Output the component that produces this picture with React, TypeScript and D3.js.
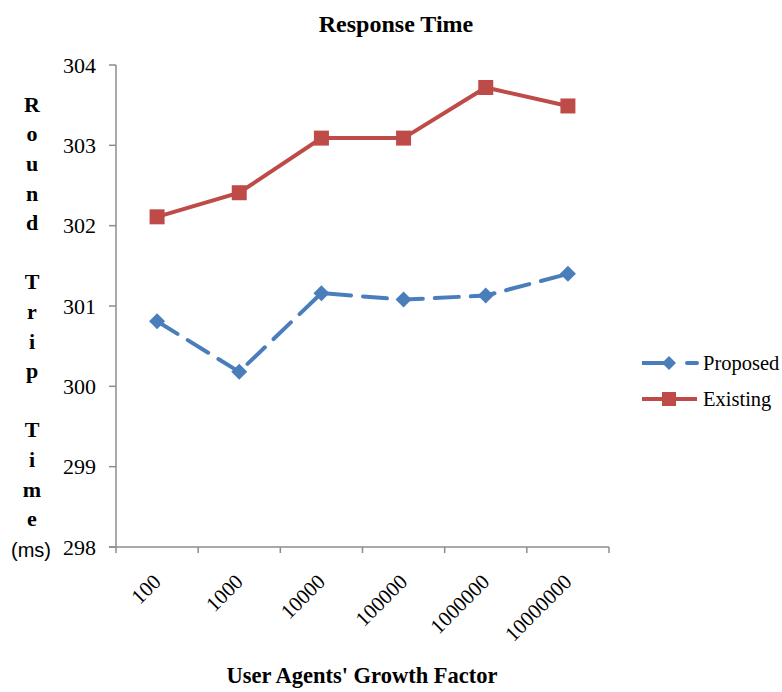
import * as d3 from "d3";

const categories = ["100", "1000", "10000", "100000", "1000000", "10000000"];
const proposed = [300.81, 300.18, 301.16, 301.08, 301.13, 301.4];
const existing = [302.11, 302.41, 303.09, 303.09, 303.72, 303.49];
const yTicks = [298, 299, 300, 301, 302, 303, 304];
const yTitleLetters = ["R", "o", "u", "n", "d", "", "T", "r", "i", "p", "", "T", "i", "m", "e"];

const W = 782;
const H = 692;
const left = 116;
const right = 609;
const top = 65;
const bottom = 547;
const serif = "'Liberation Serif', 'Times New Roman', serif";
const blue = "#4a7ebb";
const red = "#be4b48";
const axisColor = "#8c8c8c";

export default function App() {
  const x = d3.scaleBand<string>().domain(categories).range([left, right]);
  const y = d3.scaleLinear().domain([298, 304]).range([bottom, top]);
  const cx = (c: string) => (x(c) as number) + x.bandwidth() / 2;

  const line = d3
    .line<number>()
    .x((_, i) => cx(categories[i]))
    .y((v) => y(v));

  const diamond = (px: number, py: number, s = 8) =>
    `M${px},${py - s}L${px + s},${py}L${px},${py + s}L${px - s},${py}Z`;

  const tickXs = categories.map((c) => x(c) as number).concat([right]);

  return (
    <svg width={W} height={H} style={{ position: "absolute", left: 0, top: 0, background: "#fff" }}>
      <rect width={W} height={H} fill="#fff" />
      <text x={396} y={32} textAnchor="middle" fontFamily={serif} fontWeight="bold" fontSize={24}>
        Response Time
      </text>

      {/* axes */}
      <line x1={left} x2={left} y1={top} y2={bottom} stroke={axisColor} strokeWidth={1.5} />
      <line x1={left - 7} x2={right} y1={bottom} y2={bottom} stroke={axisColor} strokeWidth={1.5} />
      {yTicks.map((t) => (
        <g key={t}>
          <line x1={left - 7} x2={left} y1={y(t)} y2={y(t)} stroke={axisColor} strokeWidth={1.5} />
          <text x={96} y={y(t)} dy="0.35em" textAnchor="end" fontFamily={serif} fontSize={22}>
            {t}
          </text>
        </g>
      ))}
      {tickXs.map((tx, i) => (
        <line key={i} x1={tx} x2={tx} y1={bottom} y2={bottom + 6} stroke={axisColor} strokeWidth={1.5} />
      ))}
      {categories.map((c) => (
        <text
          key={c}
          transform={`translate(${cx(c) + 5},${583}) rotate(-45)`}
          textAnchor="end"
          fontFamily={serif}
          fontSize={21}
        >
          {c}
        </text>
      ))}

      <text x={362} y={683} textAnchor="middle" fontFamily={serif} fontWeight="bold" fontSize={22.5}>
        User Agents' Growth Factor
      </text>

      {/* y title */}
      {yTitleLetters.map((l, i) => (
        <text key={i} x={32} y={104 + i * 29.6} dy="0.35em" textAnchor="middle" fontFamily={serif} fontWeight="bold" fontSize={22}>
          {l}
        </text>
      ))}
      <text x={31} y={550} dy="0.35em" textAnchor="middle" fontFamily="'Liberation Sans', Arial, sans-serif" fontSize={20}>
        (ms)
      </text>

      {/* series */}
      <path d={line(existing) as string} fill="none" stroke={red} strokeWidth={4} />
      {existing.map((v, i) => (
        <rect key={i} x={cx(categories[i]) - 7.5} y={y(v) - 7.5} width={15} height={15} fill={red} />
      ))}
      <path d={line(proposed) as string} fill="none" stroke={blue} strokeWidth={4} strokeDasharray="24,12" strokeLinecap="round" />
      {proposed.map((v, i) => (
        <path key={i} d={diamond(cx(categories[i]), y(v))} fill={blue} />
      ))}

      {/* legend */}
      <line x1={642} x2={667} y1={363} y2={363} stroke={blue} strokeWidth={4} />
      <line x1={687} x2={697} y1={363} y2={363} stroke={blue} strokeWidth={4} strokeLinecap="round" />
      <path d={diamond(669, 363, 7)} fill={blue} />
      <text x={703} y={363} dy="0.35em" fontFamily={serif} fontSize={20.5}>
        Proposed
      </text>
      <line x1={642} x2={697} y1={399} y2={399} stroke={red} strokeWidth={4} />
      <rect x={662} y={392} width={14} height={14} fill={red} />
      <text x={703} y={399} dy="0.35em" fontFamily={serif} fontSize={20.5}>
        Existing
      </text>
    </svg>
  );
}
